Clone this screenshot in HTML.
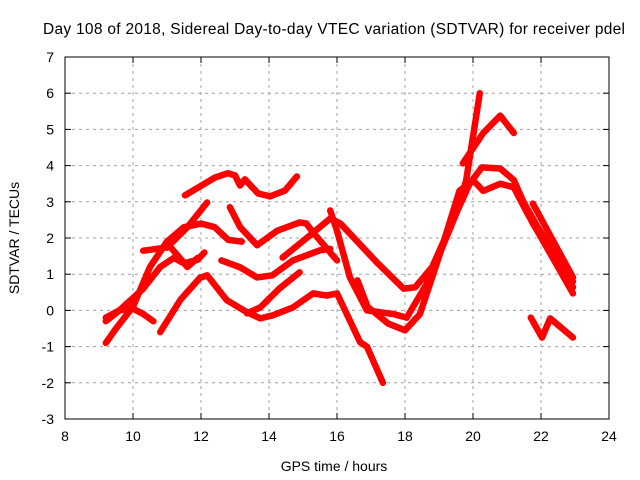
<!DOCTYPE html>
<html><head><meta charset="utf-8"><style>
body{margin:0;background:#fff}
svg{display:block;font-family:"Liberation Sans",sans-serif}
</style></head><body>
<svg id="chart" width="640" height="480">
<text x="334" y="34" font-size="15.5" text-anchor="middle" textLength="582">Day 108 of 2018, Sidereal Day-to-day VTEC variation (SDTVAR) for receiver pdel</text>
<text x="334" y="471" font-size="14" text-anchor="middle">GPS time / hours</text>
<text transform="translate(19,238) rotate(-90)" font-size="14" text-anchor="middle">SDTVAR / TECUs</text>
<g id="grid"></g><g id="series"></g><g id="axes"></g>
</svg>
<script>
const xTicks=[8,10,12,14,16,18,20,22,24];
const yTicks=[-3,-2,-1,0,1,2,3,4,5,6,7];
const track1=[[9.2,-0.9],[9.5,-0.5],[10,0.1],[10.5,1.2],[11,1.9],[11.5,2.3],[12,2.4],[12.4,2.3],[12.8,1.95],[13.2,1.9]];
const track2=[[11.0,1.74],[11.6,2.3],[12.18,2.98]];
const track3=[[9.2,-0.3],[9.6,0],[10.3,0.6],[10.8,1.2],[11.2,1.45],[11.5,1.3],[11.9,1.4],[12.1,1.6]];
const track4=[[10.3,1.65],[11.1,1.75],[11.6,1.2],[11.9,1.45]];
const track5=[[10.8,-0.6],[11.4,0.3],[11.97,0.9],[12.18,0.97],[12.76,0.28],[13.35,-0.05],[13.74,-0.22],[14.1,-0.14],[14.7,0.08],[15.3,0.47],[15.7,0.41],[16.0,0.47],[16.68,-0.88],[16.88,-1.0],[17.35,-2.0]];
const track6=[[13.35,-0.08],[13.74,0.08],[14.3,0.6],[14.9,1.05]];
const track7=[[12.6,1.38],[13.15,1.19],[13.65,0.91],[14.1,0.97],[14.7,1.38],[15.5,1.66],[15.8,1.7]];
const track8=[[12.85,2.85],[13.15,2.3],[13.65,1.8],[14.24,2.2],[14.9,2.43],[15.1,2.4],[15.3,2.15],[16.0,1.38]];
const track9=[[11.53,3.18],[12.41,3.67],[12.79,3.79],[13,3.73],[13.15,3.45],[13.29,3.62],[13.68,3.23],[14.03,3.15],[14.47,3.31],[14.82,3.7]];
const track10=[[14.4,1.46],[15.2,2.07],[15.8,2.54],[16.1,2.4],[17.2,1.3],[17.96,0.6],[18.3,0.64],[18.8,1.2],[19.5,2.67],[19.9,3.5],[20.26,3.95],[20.8,3.92],[21.2,3.6],[21.76,2.4],[22.94,0.64]];
const track11=[[15.8,2.76],[16.0,2.2],[16.38,0.91],[16.88,0],[17.65,-0.1],[18.05,-0.2],[18.65,0.75],[19.3,2.2],[19.6,2.9],[19.8,3.6],[20.0,4.8],[20.2,6.0]];
const track12=[[16.6,0.83],[16.9,0.1],[17.5,-0.36],[18.0,-0.55],[18.44,-0.1],[19.03,1.57],[19.6,3.3],[20.0,3.6],[20.3,3.3],[20.8,3.5],[21.2,3.4],[21.6,2.68],[22.94,0.47]];
const track13=[[19.7,4.06],[20.3,4.9],[20.8,5.38],[21.2,4.9]];
const track14=[[21.7,-0.2],[22.03,-0.75],[22.27,-0.22],[22.94,-0.75]];
const track15=[[21.76,2.95],[22.35,1.93],[22.94,0.91]];
const track16=[[9.2,-0.2],[9.6,0.0],[10.0,0.05],[10.3,-0.1],[10.6,-0.3]];
const track17=[[21.3,3.3],[21.9,2.3],[22.5,1.4],[22.94,0.8]];
const tracks=[track1,track2,track3,track4,track5,track6,track7,track8,track9,track10,track11,track12,track13,track14,track15,track16,track17];

const X0=65,X1=609,Y0=419,Y1=57;
const xs=t=>X0+(t-8)/(24-8)*(X1-X0);
const ys=v=>Y0-(v+3)/10*(Y0-Y1);
const NS="http://www.w3.org/2000/svg";
function mk(tag,attrs,parent){const e=document.createElementNS(NS,tag);for(const k in attrs)e.setAttribute(k,attrs[k]);parent.appendChild(e);return e;}
const grid=document.getElementById('grid'),axes=document.getElementById('axes'),ser=document.getElementById('series');
xTicks.forEach(t=>{
  const x=xs(t);
  if(t>8&&t<24){const g=mk('line',{x1:x,x2:x,y1:Y1,y2:Y0,stroke:'#a0a0a0','stroke-dasharray':'3,4'},grid);
  
  }
  mk('line',{x1:x,x2:x,y1:Y0,y2:Y0-6,stroke:'#000'},axes);
  mk('line',{x1:x,x2:x,y1:Y1,y2:Y1+6,stroke:'#000'},axes);
  const l=mk('text',{x:x,y:Y0+22,'font-size':14,'text-anchor':'middle'},axes);l.textContent=t;
  
  
});
yTicks.forEach(v=>{
  const y=ys(v);
  if(v>-3&&v<7){const g=mk('line',{x1:X0,x2:X1,y1:y,y2:y,stroke:'#a0a0a0','stroke-dasharray':'3,4'},grid);
  
  }
  mk('line',{x1:X0,x2:X0+6,y1:y,y2:y,stroke:'#000'},axes);
  mk('line',{x1:X1,x2:X1-6,y1:y,y2:y,stroke:'#000'},axes);
  const l=mk('text',{x:X0-11,y:y+5,'font-size':14,'text-anchor':'end'},axes);l.textContent=v;
  
  
});
const b=mk('rect',{x:X0,y:Y1,width:X1-X0,height:Y0-Y1,fill:'none',stroke:'#000'},axes);


tracks.forEach((tr,i)=>{
  const p=mk('polyline',{points:tr.map(d=>xs(d[0])+','+ys(d[1])).join(' '),fill:'none',stroke:'#ff0000','stroke-width':6.5,'stroke-linejoin':'round','stroke-linecap':'round'},ser);
  
  
});
</script>
</body></html>
